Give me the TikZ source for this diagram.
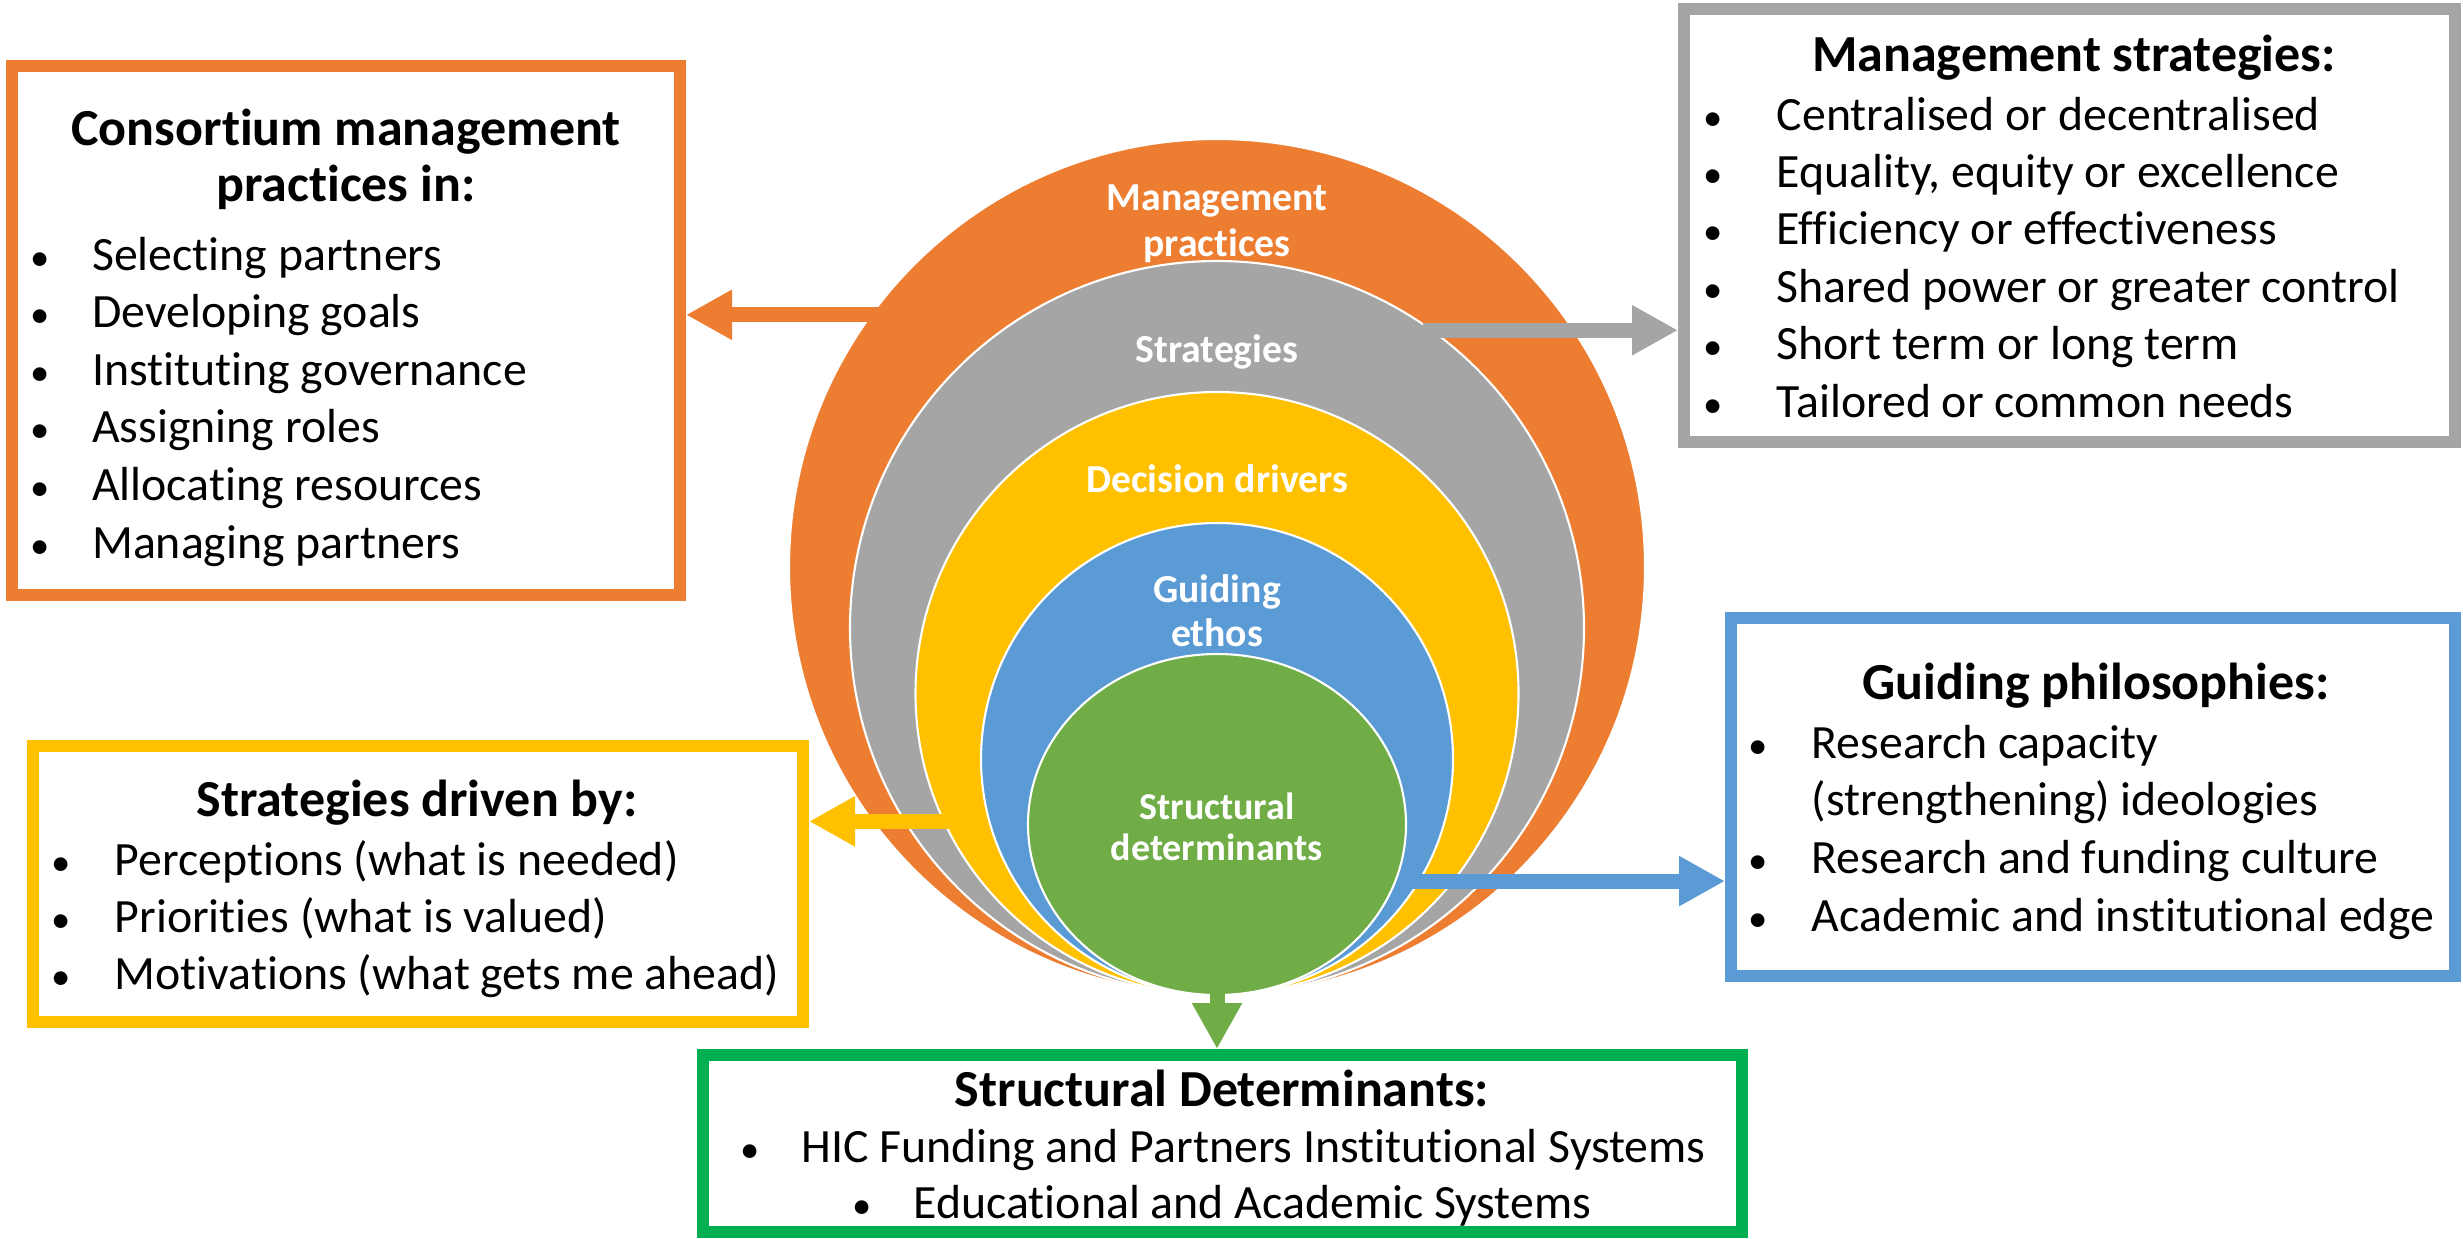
\documentclass[tikz,border=0pt]{standalone}
\usepackage{fontspec}
\setmainfont{Carlito}[Ligatures=NoCommon]
\usetikzlibrary{arrows.meta,shapes.geometric}

\definecolor{mpOrange}{HTML}{ED7D31}
\definecolor{stGray}{HTML}{A5A5A5}
\definecolor{ddYellow}{HTML}{FFC000}
\definecolor{geBlue}{HTML}{5B9BD5}
\definecolor{sdGreen}{HTML}{70AD47}
\definecolor{boxGreen}{HTML}{00B050}

\newcommand\bulletdot{{\fontsize{11}{11}\selectfont •}}

\tikzset{
  ring/.style={circle,fill=#1,draw=white,line width=0.6pt,inner sep=0pt},
  lbl/.style={text=white,font=\bfseries\fontsize{11.3}{13.1}\selectfont,align=center,inner sep=0pt},
  frame/.style={draw=#1,line width=1.2mm,fill=white,inner sep=0pt},
  head/.style={font=\bfseries\fontsize{14.8}{15.9}\selectfont,anchor=base,inner sep=0pt},
  item/.style={font=\fontsize{13.6}{16.4}\selectfont,anchor=base west,inner sep=0pt},
  dot/.style={font=\fontsize{13.6}{16.4}\selectfont,anchor=base,inner sep=0pt},
  line/.style={font=\fontsize{13.6}{16.4}\selectfont,anchor=base,inner sep=0pt},
  link/.style={line width=1.5mm,draw=#1,-{Triangle[length=4.6mm,width=4.7mm]}},
}

\begin{document}
\begin{tikzpicture}
\useasboundingbox (0,0) rectangle (24.63,-12.38);

% nested layers, all touching at the bottom
\node[ring=mpOrange,minimum size=8.56cm] (mp) at (12.17,-5.67) {};
\node[ring=stGray,minimum size=7.34cm] (st) at (12.17,-6.28) {};
\node[ring=ddYellow,minimum size=6.03cm] (dd) at (12.17,-6.935) {};
\node[ring=geBlue,minimum size=4.72cm] (ge) at (12.17,-7.59) {};
\node[ellipse,fill=sdGreen,draw=white,line width=0.6pt,inner sep=0pt,
      minimum width=3.78cm,minimum height=3.41cm] (sd) at (12.17,-8.245) {};

\node[lbl] (mp-l) at (12.17,-2.24) {Management\\practices};
\node[lbl] (st-l) at (12.17,-3.52) {Strategies};
\node[lbl] (dd-l) at (12.17,-4.79) {Decision drivers};
\node[lbl,font=\bfseries\fontsize{11.3}{12.5}\selectfont] (ge-l) at (12.17,-6.11) {Guiding\\ethos};
\node[lbl,font=\bfseries\fontsize{10.8}{11.8}\selectfont] (sd-l) at (12.17,-8.27) {Structural\\determinants};

% boxes
\node[frame=mpOrange,minimum width=6.68cm,minimum height=5.29cm] (cmp) at (3.46,-3.305) {};
\node[frame=stGray,minimum width=7.71cm,minimum height=4.33cm] (mst) at (20.695,-2.255) {};
\node[frame=geBlue,minimum width=7.24cm,minimum height=3.58cm] (gph) at (20.93,-7.97) {};
\node[frame=ddYellow,minimum width=7.70cm,minimum height=2.76cm] (sdb) at (4.18,-8.84) {};
\node[frame=boxGreen,minimum width=10.39cm,minimum height=1.77cm] (sdt) at (12.225,-11.435) {};

% block arrows out of the layers
\draw[link=mpOrange] ([xshift=1mm]mp.144) -- (mp.144 -| cmp.east);
\draw[link=stGray] ([xshift=-1mm]st.54) -- (st.54 -| mst.west);
\draw[link=ddYellow] ([xshift=1mm]dd.205) -- (dd.205 -| sdb.east);
\draw[link=geBlue] ([xshift=-1mm]ge.329) -- (ge.329 -| gph.west);
\draw[link=sdGreen] ([yshift=1mm]sd.south) -- (sd.south |- sdt.north);

% practices
\node[head] (cmp-h1) at (3.46,-1.45) {Consortium management};
\node[head] (cmp-h2) at (3.46,-2.01) {practices in:};
\foreach \t [count=\i] in {Selecting partners,Developing goals,Instituting governance,
    Assigning roles,Allocating resources,Managing partners}{
  \node[dot] (cmp-d\i) at (0.40,{-2.70-0.576*(\i-1)}) {\bulletdot};
  \node[item] (cmp-\i) at (0.915,{-2.70-0.576*(\i-1)}) {\t};
}

% strategies
\node[head] (mst-h) at (20.74,-0.71) {Management strategies:};
\foreach \t [count=\i] in {Centralised or decentralised,{Equality, equity or excellence},
    Efficiency or effectiveness,Shared power or greater control,Short term or long term,
    Tailored or common needs}{
  \node[dot] (mst-d\i) at (17.13,{-1.30-0.574*(\i-1)}) {\bulletdot};
  \node[item] (mst-\i) at (17.76,{-1.30-0.574*(\i-1)}) {\t};
}

% philosophies
\node[head] (gph-h) at (20.96,-6.99) {Guiding philosophies:};
\foreach \t [count=\i] in {Research capacity,(strengthening) ideologies,
    Research and funding culture,Academic and institutional edge}{
  \node[item] (gph-\i) at (18.11,{-7.58-0.577*(\i-1)}) {\t};
}
\foreach \i in {1,3,4}{
  \node[dot] (gph-d\i) at (17.58,{-7.58-0.577*(\i-1)}) {\bulletdot};
}

% drivers
\node[head] (sdb-h) at (4.17,-8.16) {Strategies driven by:};
\foreach \t [count=\i] in {Perceptions (what is needed),Priorities (what is valued),
    Motivations (what gets me ahead)}{
  \node[dot] (sdb-d\i) at (0.61,{-8.75-0.57*(\i-1)}) {\bulletdot};
  \node[item] (sdb-\i) at (1.14,{-8.75-0.57*(\i-1)}) {\t};
}

% determinants
\node[head] (sdt-h) at (12.22,-11.06) {Structural Determinants:};
\node[line] (sdt-1) at (12.23,-11.62) {\makebox[6.1mm][l]{\bulletdot}HIC Funding and Partners Institutional Systems};
\node[line] (sdt-2) at (12.22,-12.18) {\makebox[6.1mm][l]{\bulletdot}Educational and Academic Systems};
\end{tikzpicture}
\end{document}
